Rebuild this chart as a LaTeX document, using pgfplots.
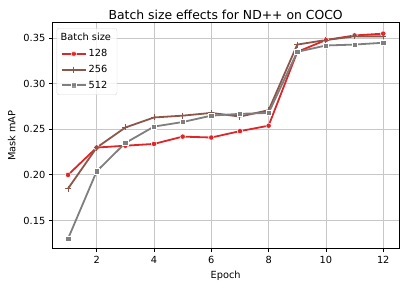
\documentclass[border=0pt]{standalone}
\usepackage{fontspec}
\setmainfont{DejaVu Sans}
\usepackage{pgfplots}
\pgfplotsset{compat=1.18}
\definecolor{cred}{HTML}{DC2628}
\definecolor{cbrown}{HTML}{8C564B}
\definecolor{cgray}{HTML}{7F7F7F}
\begin{document}
\begin{tikzpicture}
\begin{axis}[
  at={(0,0)}, anchor=south west,
  scale only axis, width=346.7bp, height=226bp,
  xmin=0.45, xmax=12.55, ymin=0.119, ymax=0.367,
  xtick={2,4,6,8,10,12},
  ytick={0.15,0.20,0.25,0.30,0.35},
  yticklabel style={/pgf/number format/.cd, fixed, fixed zerofill, precision=2},
  /pgf/number format/assume math mode=true,
  ticklabel style={font=\fontsize{9.8bp}{11bp}\selectfont},
  xticklabel style={yshift=-1bp},
  tick align=outside, tick pos=left,
  major tick length=3.5bp,
  tick style={black, line width=0.8bp},
  axis line style={black, line width=0.8bp},
  grid=major,
  major grid style={line width=0.8bp, color=black!22},
  xlabel={Epoch}, ylabel={Mask mAP},
  label style={font=\fontsize{9.8bp}{11bp}\selectfont},
  ylabel style={yshift=1bp},
  title={Batch size effects for ND++ on COCO},
  title style={font=\fontsize{12.4bp}{14bp}\selectfont, yshift=-6bp},
  legend style={at={(0.0127,0.975)}, anchor=north west, draw=black!15, rounded corners=2bp,
    fill=white, fill opacity=0.8, text opacity=1, font=\fontsize{9.8bp}{11bp}\selectfont,
    row sep=3bp, inner xsep=4bp, inner ysep=3bp},
  legend cell align=left,
  legend image code/.code={\draw[mark repeat=2,mark phase=2] plot coordinates {(0bp,0bp)(12bp,0bp)(24bp,0bp)};},
]
\addlegendimage{empty legend}
\addlegendentry{\hspace*{-28bp}Batch size}
\addplot[cred, line width=1.8bp, mark=*, mark size=2.7bp, mark options={draw=white, fill=cred, line width=0.5bp}] coordinates {
(1,0.200)(2,0.230)(3,0.232)(4,0.234)(5,0.242)(6,0.241)(7,0.248)(8,0.254)(9,0.335)(10,0.348)(11,0.353)(12,0.355)};
\addlegendentry{128}
\addplot[cbrown, line width=1.8bp, mark=+, mark size=3bp, mark options={draw=cbrown, line width=1bp}] coordinates {
(1,0.185)(2,0.230)(3,0.252)(4,0.263)(5,0.265)(6,0.268)(7,0.264)(8,0.271)(9,0.343)(10,0.348)(11,0.352)(12,0.352)};
\addlegendentry{256}
\addplot[cgray, line width=1.8bp, mark=square*, mark size=2.7bp, mark options={draw=white, fill=cgray, line width=0.5bp}] coordinates {
(1,0.130)(2,0.204)(3,0.235)(4,0.253)(5,0.258)(6,0.265)(7,0.267)(8,0.268)(9,0.335)(10,0.342)(11,0.343)(12,0.345)};
\addlegendentry{512}
\end{axis}
\pgfresetboundingbox
\path[use as bounding box] (-52.3bp,-39.3bp) rectangle (354.7bp,248.7bp);
\end{tikzpicture}
\end{document}
